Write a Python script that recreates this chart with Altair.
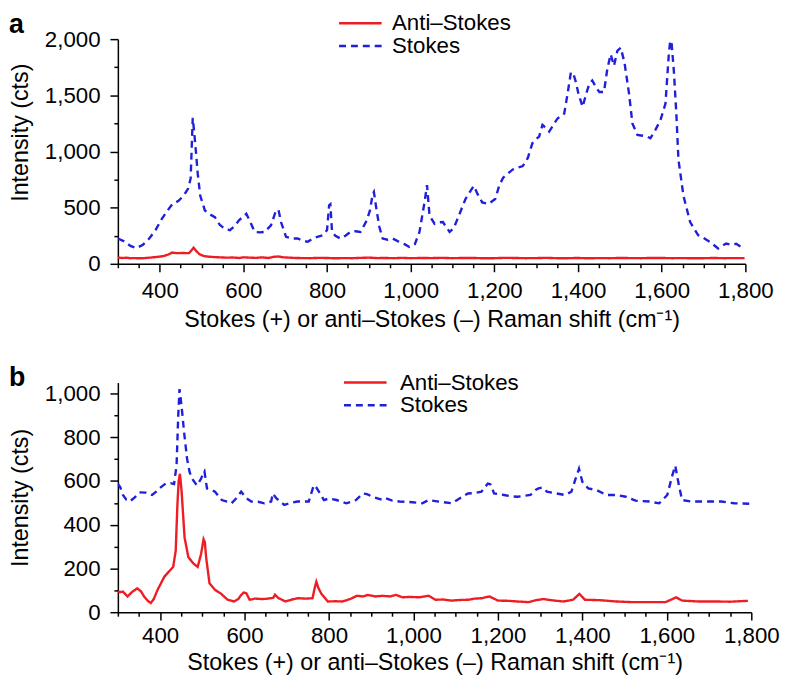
import altair as alt
import pandas as pd

SERIES = ["Anti–Stokes", "Stokes"]
RED = "#ee1d23"
BLUE = "#1f1fdc"

# ---------- panel a ----------
a_stokes_x = [300, 315, 330, 345, 360, 375, 390, 405, 420, 430, 445, 458, 468, 474, 479, 483, 487, 491, 497,
              508, 520, 532, 544, 556, 568, 580, 590, 600, 607, 615, 627, 640, 651, 666, 678, 684, 690, 702,
              716, 730, 742, 754, 766, 777, 790, 800, 805, 808, 812, 820, 832, 844, 856, 868, 880, 895, 903,
              909, 912, 918, 925, 933, 945, 957, 970, 985, 997, 1010, 1021, 1033, 1039, 1045, 1057, 1067,
              1077, 1093, 1103, 1112, 1131, 1145, 1151, 1160, 1171, 1186, 1202, 1212, 1221, 1244, 1260, 1268,
              1280, 1291, 1300, 1307, 1315, 1323, 1331, 1351, 1367, 1375, 1383, 1389, 1395, 1401, 1411, 1420,
              1427, 1434, 1445, 1451, 1462, 1470, 1478, 1486, 1494, 1502, 1511, 1522, 1530, 1542, 1555, 1565,
              1573, 1585, 1597, 1609, 1617, 1622, 1629, 1635, 1640, 1652, 1668, 1687, 1700, 1715, 1735, 1754,
              1765, 1778, 1790, 1798]
a_stokes_y = [225, 200, 160, 140, 170, 225, 300, 400, 480, 530, 560, 610, 670, 760, 1300, 1150, 980, 800, 605,
              475, 440, 415, 345, 310, 300, 340, 390, 420, 445, 386, 284, 280, 284, 343, 474, 480, 372, 240,
              225, 225, 205, 196, 225, 240, 255, 300, 520, 530, 283, 250, 225, 250, 284, 290, 284, 386, 480,
              620, 640, 489, 330, 225, 215, 225, 200, 175, 150, 175, 284, 547, 700, 430, 357, 370,
              372, 284, 320, 400, 577, 660, 694, 620, 547, 533, 577, 700, 767, 840, 860, 870,
              943, 1075, 1110, 1133, 1236, 1210, 1177, 1294, 1338, 1514, 1705, 1690, 1617, 1514, 1397, 1520,
              1602, 1631, 1560, 1529, 1529, 1734, 1866, 1763, 1895, 1924, 1793, 1514, 1250, 1148, 1140, 1133,
              1118, 1192, 1279, 1426, 1866, 2041, 1719, 1338, 928, 606, 372, 255, 230, 196, 137, 181,
              170, 178, 150, 143]
a_anti_x = [300, 310, 320, 330, 340, 350, 360, 370, 380, 390, 400, 410, 420, 430, 440, 455, 470, 476, 481, 486,
            495, 505, 515, 530, 545, 560, 575, 590, 600, 615, 630, 645, 660, 672, 684, 695, 710, 725, 740, 760,
            780, 800, 820, 840, 860, 880, 900, 920, 940, 960, 980, 1000, 1025, 1050, 1075, 1100, 1125, 1150,
            1175, 1200, 1225, 1250, 1275, 1300, 1325, 1350, 1375, 1400, 1425, 1450, 1475, 1500, 1525, 1550,
            1575, 1600, 1625, 1650, 1675, 1700, 1725, 1750, 1775, 1798]
a_anti_y = [55, 52, 54, 50, 51, 49, 50, 53, 56, 60, 64, 70, 82, 100, 95, 96, 95, 120, 143, 120,
            85, 70, 64, 60, 57, 55, 56, 52, 58, 55, 53, 57, 52, 62, 65, 58, 55, 52, 51, 50,
            53, 52, 49, 51, 50, 53, 55, 51, 52, 50, 53, 50, 52, 51, 53, 50, 52, 52,
            49, 50, 53, 52, 50, 51, 53, 50, 50, 52, 49, 51, 50, 52, 51, 50,
            52, 52, 50, 51, 49, 50, 52, 50, 51, 50]

# ---------- panel b ----------
b_stokes_x = [300, 306, 312, 320, 328, 340, 351, 366, 381, 390, 398, 413, 425, 433, 439, 443, 446, 451, 457, 464,
              470, 476, 487, 497, 503, 505, 511, 520, 530, 546, 560, 569, 580, 592, 605, 616, 632, 647, 663, 667,
              675, 694, 710, 725, 740, 752, 764, 770, 776, 788, 800, 818, 841, 864, 880, 890, 903, 927, 935,
              950, 967, 980, 997, 1021, 1036, 1060, 1091, 1110, 1129, 1145, 1161, 1176, 1182, 1191, 1214, 1230,
              1246, 1277, 1290, 1296, 1305, 1316, 1339, 1359, 1374, 1384, 1392, 1400, 1414, 1434, 1457, 1480,
              1503, 1526, 1558, 1582, 1601, 1613, 1620, 1627, 1636, 1659, 1698, 1729, 1760, 1795]
b_stokes_y = [588, 570, 536, 515, 506, 525, 548, 547, 536, 550, 566, 588, 590, 586, 670, 900, 1020, 940, 820, 700,
              640, 610, 580, 610, 640, 645, 566, 560, 551, 513, 505, 498, 520, 551, 520, 506, 505, 498, 506, 543,
              521, 491, 500, 506, 506, 506, 581, 570, 551, 513, 520, 513, 498, 513, 543, 540, 528, 513, 521,
              510, 506, 505, 503, 498, 513, 506, 498, 521, 543, 545, 551, 588, 585, 543, 536, 530,
              528, 536, 560, 566, 570, 551, 543, 536, 551, 611, 656, 596, 566, 558, 536, 536,
              528, 510, 506, 498, 536, 626, 670, 596, 513, 506, 506, 506, 498, 496]
b_anti_x = [300, 306, 312, 323, 335, 346, 355, 362, 372, 378, 385, 394, 410, 420, 431, 437, 441, 444, 447, 451,
            458, 467, 480, 489, 497, 503, 506, 509, 517, 530, 543, 560, 575, 585, 592, 598, 604, 612, 625, 642,
            655, 668, 672, 680, 697, 712, 727, 745, 761, 766, 770, 774, 781, 797, 815, 832, 850, 866, 880, 892,
            910, 926, 945, 959, 974, 990, 1013, 1036, 1052, 1070, 1091, 1110, 1130, 1145, 1161, 1180, 1200,
            1225, 1246, 1273, 1290, 1308, 1330, 1355, 1378, 1393, 1406, 1441, 1480, 1519, 1558, 1597, 1622,
            1636, 1675, 1714, 1750, 1792]
b_anti_y = [94, 92, 94, 72, 95, 109, 95, 72, 50, 42, 60, 102, 162, 184, 207, 281, 491, 600, 633, 551,
            341, 251, 221, 207, 266, 334, 320, 251, 132, 102, 87, 57, 49, 60, 79, 90, 87, 57, 62, 60,
            62, 66, 80, 65, 49, 58, 64, 62, 64, 110, 139, 115, 87, 49, 50, 49, 60, 75, 72, 79,
            72, 75, 72, 79, 68, 70, 68, 75, 57, 58, 53, 56, 57, 62, 64, 72, 53,
            52, 49, 46, 55, 60, 54, 49, 57, 84, 57, 55, 49, 46, 46, 46, 68,
            53, 49, 49, 48, 52]

X_TICKS = list(range(300, 1801, 50))
A_Y_TICKS = list(range(0, 2001, 250))
B_Y_TICKS = list(range(0, 1001, 100))
X_TITLE = "Stokes (+) or anti–Stokes (–) Raman shift (cm⁻¹)"
Y_TITLE = "Intensity (cts)"

FONT = "Liberation Sans"
TICK_FS = 22.5
TITLE_FS = 23.5


def frame(xs_a, ys_a, xs_s, ys_s):
    return pd.concat([
        pd.DataFrame({"x": xs_a, "y": ys_a, "series": SERIES[0]}),
        pd.DataFrame({"x": xs_s, "y": ys_s, "series": SERIES[1]}),
    ], ignore_index=True)


def panel(df, ymax, yticks, ymod, width, height, letter, legend_x, legend_y, label_offset,
          letter_y, xlabel_pad, xtitle_pad, title_y=None):
    legend = alt.Legend(
        title=None, orient="none", legendX=legend_x, legendY=legend_y,
        symbolType="stroke", symbolSize=1849, symbolStrokeWidth=2.5,
        labelFontSize=TICK_FS, labelFont=FONT, labelColor="black", labelOffset=label_offset,
        clipHeight=22, rowPadding=0, padding=0,
    )
    xaxis = alt.Axis(
        values=X_TICKS, title=X_TITLE,
        labelExpr="datum.value % 200 === 0 ? format(datum.value, ',') : ''",
        tickSize={"condition": {"test": "datum.value % 200 === 0", "value": 8}, "value": 4},
        labelOverlap=False, labelFlush=False, labelPadding=xlabel_pad, titlePadding=xtitle_pad,
    )
    yargs = dict(
        values=yticks, title=Y_TITLE,
        labelExpr=f"datum.value % {ymod} === 0 ? format(datum.value, ',') : ''",
        tickSize={"condition": {"test": f"datum.value % {ymod} === 0", "value": 8}, "value": 4},
        labelOverlap=False, labelFlush=False, labelPadding=10, titlePadding=12,
    )
    if title_y is not None:
        yargs["titleY"] = title_y
    yaxis = alt.Axis(**yargs)
    lines = alt.Chart(df).mark_line(strokeWidth=2.4, clip=True).encode(
        x=alt.X("x:Q", scale=alt.Scale(domain=[300, 1800], nice=False, zero=False), axis=xaxis),
        y=alt.Y("y:Q", scale=alt.Scale(domain=[0, ymax], nice=False), axis=yaxis),
        color=alt.Color("series:N", scale=alt.Scale(domain=SERIES, range=[RED, BLUE]), legend=legend),
        strokeDash=alt.StrokeDash("series:N", scale=alt.Scale(domain=SERIES, range=[[1, 0], [7, 5]]),
                                  legend=legend),
    )
    lab = alt.Chart(pd.DataFrame({"t": [letter]})).mark_text(
        fontSize=27, fontWeight="bold", font=FONT, align="left", baseline="top", color="black"
    ).encode(text="t:N", x=alt.value(-110), y=alt.value(letter_y))
    return alt.layer(lines, lab).properties(width=width, height=height)


top = panel(frame(a_anti_x, a_anti_y, a_stokes_x, a_stokes_y), 2000, A_Y_TICKS, 500,
            634, 227, "a", 222, -27, 9, -27, 8, 6, title_y=94)
bottom = panel(frame(b_anti_x, b_anti_y, b_stokes_x, b_stokes_y), 1050, B_Y_TICKS, 200,
               640, 232, "b", 227, -11, 12, -18, 5, 3)

chart = alt.vconcat(top, bottom, spacing=33).resolve_scale(
    color="independent", strokeDash="independent"
).resolve_legend(
    color="independent", strokeDash="independent"
).properties(padding=0).configure_view(
    stroke=None
).configure_axis(
    labelFont=FONT, titleFont=FONT, labelFontSize=TICK_FS, titleFontSize=TITLE_FS,
    labelColor="black", titleColor="black", titleFontWeight="normal",
    domainColor="black", tickColor="black", domainWidth=1.5, tickWidth=1.5, grid=False,
)

chart.save("out.html", embed_options={"renderer": "svg", "actions": False})
